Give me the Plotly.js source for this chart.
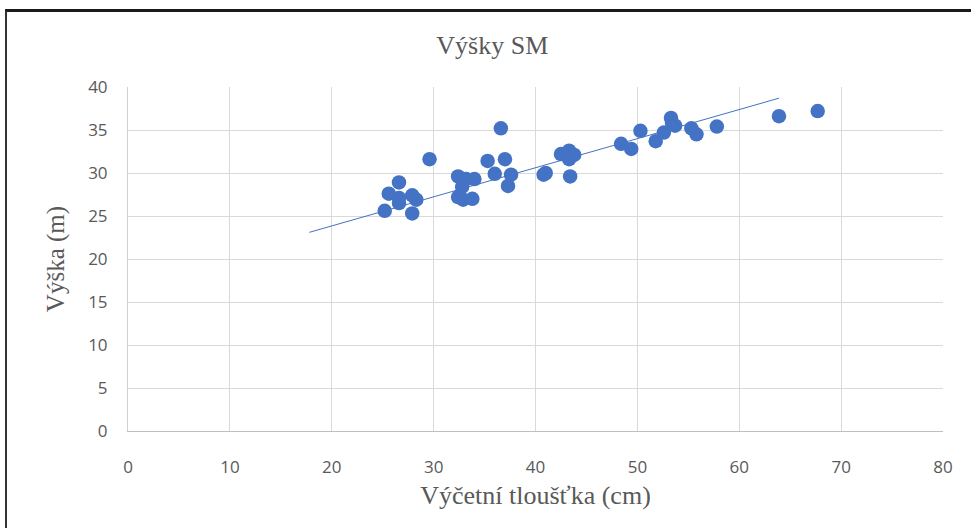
<!DOCTYPE html>
<html>
<head>
<meta charset="utf-8">
<script src="https://cdn.plot.ly/plotly-3.0.1.min.js"></script>
<style>
  html, body { margin: 0; padding: 0; background: #fff; }
  #chart { width: 971px; height: 528px; }
  #frame { position: absolute; left: 5px; top: 9px; width: 966px; height: 519px;
           border-top: 3px solid #1a1a1a; border-left: 2px solid #333; pointer-events: none; }
</style>
</head>
<body>
<div id="chart"></div>
<div id="frame"></div>
<script>
// Výčetní tloušťka (cm) and výška (m)
const diameter = [25.2, 25.6, 26.6, 26.6, 26.6, 27.9, 28.3, 27.9, 29.6, 32.4, 33.2, 34.0, 32.8, 32.4, 32.9, 33.8,
                  35.3, 36.0, 36.6, 37.0, 37.6, 37.3, 40.8, 41.0, 42.5, 43.3, 43.8, 43.3, 43.4, 48.4, 49.4, 50.3,
                  51.8, 52.6, 53.3, 53.4, 53.7, 55.3, 55.8, 57.8, 63.9, 67.7];
const height   = [25.6, 27.6, 28.9, 26.5, 27.1, 27.4, 26.9, 25.3, 31.6, 29.6, 29.3, 29.3, 28.4, 27.2, 26.9, 27.0,
                  31.4, 29.9, 35.2, 31.6, 29.8, 28.5, 29.8, 30.0, 32.2, 32.6, 32.1, 31.6, 29.6, 33.4, 32.8, 34.9,
                  33.7, 34.7, 36.4, 35.8, 35.5, 35.2, 34.5, 35.4, 36.6, 37.2];
// Trend line end points
const trendX = [17.8, 63.9];
const trendY = [23.1, 38.7];
const xTicks = [0, 10, 20, 30, 40, 50, 60, 70, 80];
const yTicks = [0, 5, 10, 15, 20, 25, 30, 35, 40];

const blue = '#4472C4';
const traces = [
  { x: trendX, y: trendY, type: 'scatter', mode: 'lines',
    line: { color: blue, width: 1 }, hoverinfo: 'skip' },
  { x: diameter, y: height, type: 'scatter', mode: 'markers',
    marker: { color: blue, size: 14.5 } }
];

const serif = 'Liberation Serif, Times New Roman, serif';
const sans = 'Open Sans, Noto Sans, sans-serif';
const layout = {
  width: 971, height: 528,
  margin: { l: 128, r: 28, t: 87, b: 97 },
  paper_bgcolor: '#ffffff', plot_bgcolor: '#ffffff',
  showlegend: false,
  title: { text: 'Výšky SM', x: 0.507, xanchor: 'center', y: 0.915, yanchor: 'middle',
           font: { family: serif, size: 26, color: '#595959' } },
  xaxis: {
    range: [0, 80], tickvals: xTicks, ticktext: xTicks.map(String),
    showgrid: true, gridcolor: '#d9d9d9', gridwidth: 1,
    zeroline: false, showline: true, linecolor: '#bfbfbf', linewidth: 1,
    ticks: '', ticklabelstandoff: 21,
    tickfont: { family: sans, size: 17, color: '#595959' },
    title: { text: 'Výčetní tloušťka (cm)', standoff: 8,
             font: { family: serif, size: 26, color: '#595959' } }
  },
  yaxis: {
    range: [0, 40], tickvals: yTicks, ticktext: yTicks.map(String),
    showgrid: true, gridcolor: '#d9d9d9', gridwidth: 1,
    zeroline: false, showline: true, linecolor: '#d0d0d0', linewidth: 1,
    ticks: '', ticklabelstandoff: 16,
    tickfont: { family: sans, size: 17, color: '#595959' },
    title: { text: 'Výška (m)', standoff: 16,
             font: { family: serif, size: 25, color: '#595959' } }
  }
};

Plotly.newPlot('chart', traces, layout, { displayModeBar: false, staticPlot: true });
</script>
</body>
</html>
